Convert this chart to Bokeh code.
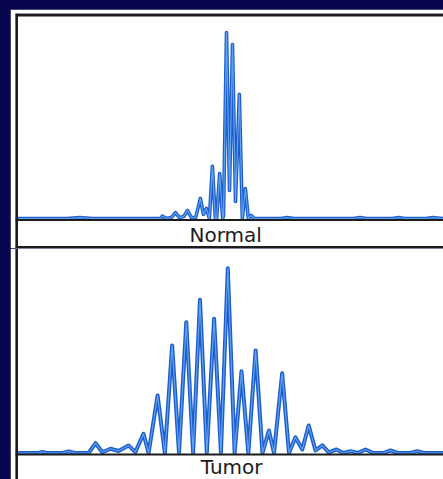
from bokeh.plotting import figure
from bokeh.layouts import column
from bokeh.models import Span, Label, Range1d, ColumnDataSource
from bokeh.embed import file_html
from bokeh.resources import INLINE

# ---- data (x: relative fragment position 0-100, y: relative signal, tallest peak = 100) ----
normal_x = [0.0, 12.0, 15.0, 18.0, 28.0, 33.9, 34.3, 35.3, 36.4, 37.4, 38.3, 39.3, 40.2, 41.1,
            42.1, 43.2, 43.9, 44.6, 45.3, 46.0, 46.7, 47.0, 47.7, 48.4, 48.6, 49.3, 50.0,
            50.7, 51.4, 52.3, 53.0, 53.7, 54.4, 55.1, 55.8, 62.0, 63.5, 65.0, 79.0, 80.5,
            82.0, 88.0, 89.5, 91.0, 96.0, 97.5, 100.0]
normal_y = [0.0, 0.0, 0.5, 0.0, 0.0, 0.0, 1.3, 0.0, 0.5, 3.2, 0.5, 1.1, 4.3, 0.5,
            0.5, 10.8, 2.2, 5.4, 0.0, 28.0, 0.0, 0.0, 24.2, 0.0, 1.6, 100.0, 15.1,
            93.5, 9.1, 66.7, 0.0, 16.1, 0.0, 1.6, 0.0, 0.0, 0.5, 0.0, 0.0, 0.5,
            0.0, 0.0, 0.5, 0.0, 0.0, 0.5, 0.0]

tumor_x = [0.0, 5.4, 6.3, 7.2, 11.0, 12.4, 13.8, 17.1, 18.7, 20.3, 22.2, 24.1, 26.4, 28.0,
           29.9, 31.1, 33.2, 34.9, 36.6, 38.2, 39.9, 41.5, 43.1, 44.7, 46.4, 48.0, 49.6,
           51.2, 52.8, 54.4, 56.1, 57.7, 59.2, 60.4, 62.3, 63.9, 65.4, 67.0, 68.5, 70.1,
           71.7, 73.2, 75.0, 76.6, 78.3, 79.9, 81.8, 83.6, 86.0, 87.6, 89.3, 92.3, 93.9,
           95.3, 100.0]
tumor_y = [0.0, 0.0, 0.6, 0.0, 0.0, 0.9, 0.0, 0.0, 5.3, 0.4, 2.3, 1.1, 4.1, 0.5,
           10.4, 0.0, 31.1, 0.0, 58.2, 0.0, 70.8, 0.0, 82.9, 0.0, 72.6, 0.0, 100.0,
           0.0, 44.3, 0.0, 55.5, 0.0, 12.2, 0.0, 43.2, 0.0, 8.5, 1.9, 14.9, 1.4,
           4.1, 0.3, 1.9, 0.0, 1.0, 0.0, 1.9, 0.0, 0.0, 1.4, 0.0, 0.0, 1.0,
           0.0, 0.0]

panel_labels = ["Normal", "Tumor"]

NAVY = "#07064f"
EDGE = "#1e5ccc"
CORE = "#5ea3ee"
FRAME = "#1c1c1c"


def make_panel(xs, ys, label, height, y_start, y_end, top_border, label_x, label_y, border_y, lw):
    p = figure(width=433, height=height, output_backend="svg", toolbar_location=None,
               x_axis_type=None, y_axis_type=None,
               x_range=Range1d(0, 100), y_range=Range1d(y_start, y_end),
               min_border_left=5, min_border_right=0,
               min_border_top=top_border, min_border_bottom=0)
    p.grid.visible = False
    p.outline_line_color = None
    p.background_fill_color = "white"
    p.border_fill_color = "white"
    src = ColumnDataSource(dict(x=xs, y=ys))
    # black baseline under the trace
    p.add_layout(Span(location=-0.8, dimension="width", line_color=FRAME, line_width=2))
    p.line("x", "y", source=src, line_color=EDGE, line_width=lw, line_join="round")
    p.line("x", "y", source=src, line_color=CORE, line_width=1.2, line_join="round")
    # frame borders
    p.add_layout(Span(location=0.23, dimension="height", line_color=FRAME, line_width=3))
    for b in border_y:
        p.add_layout(Span(location=b, dimension="width", line_color=FRAME, line_width=3))
    p.add_layout(Label(x=label_x, y=label_y, text=label, text_align="center",
                       text_baseline="middle", text_font="DejaVu Sans",
                       text_font_size="20px", text_color="#1a1a1a"))
    return p


p1 = make_panel(normal_x, normal_y, panel_labels[0], 239, -16.13, 110.2, 4,
                49.1, -9.1, [109.4, -15.6], 3.6)
p2 = make_panel(tumor_x, tumor_y, panel_labels[1], 231, -14.34, 110.66, 0,
                50.5, -7.6, [], 4.0)

layout = column(p1, p2, spacing=0)

html = file_html(layout, INLINE, title="Normal vs Tumor")
html = html.replace("</head>",
                    "<style>html,body{background:%s;} body{padding:9px 0 0 10px;}</style></head>" % NAVY)
open("out.html", "w").write(html)
